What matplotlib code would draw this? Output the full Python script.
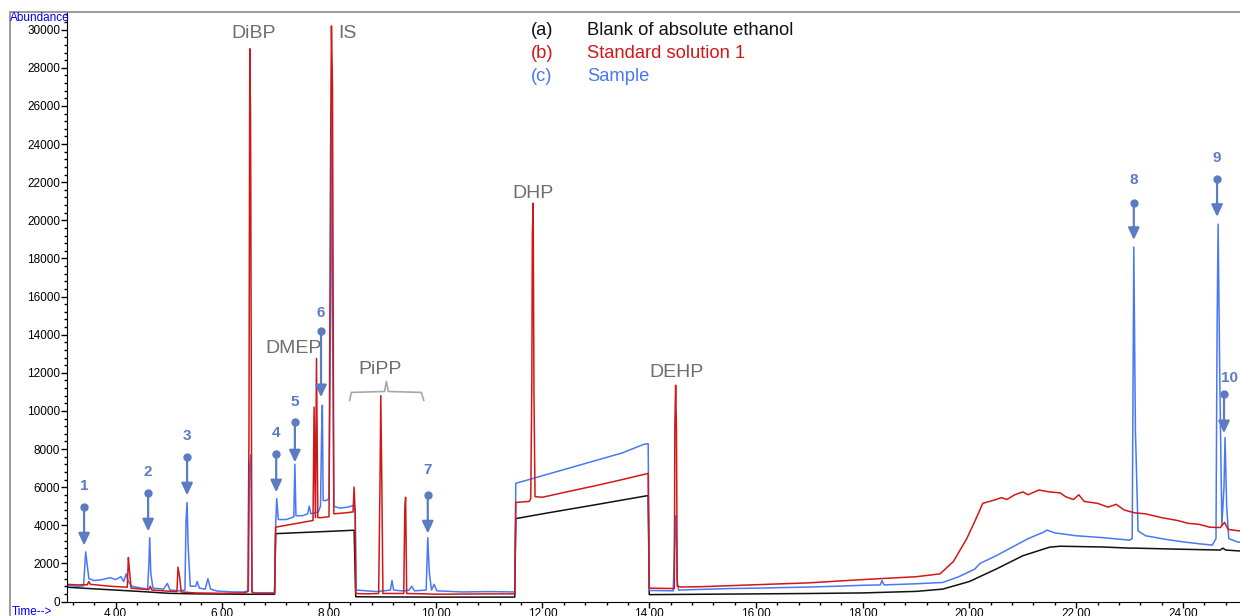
import numpy as np
import matplotlib
matplotlib.use("Agg")
import matplotlib.pyplot as plt
from matplotlib.ticker import MultipleLocator, FormatStrFormatter
from matplotlib.patches import Rectangle

plt.rcParams['font.family'] = ['Liberation Sans', 'DejaVu Sans']

# ---- traces (time in min, abundance) ----
blank_t = [3.09, 3.5, 4.0, 4.5, 5.0, 5.5, 6.0, 6.5, 6.98, 7.0, 7.5, 8.0, 8.47, 8.5, 9.0, 10.0,
           11.0, 11.48, 11.5, 12.0, 13.0, 13.98, 14.0, 15.0, 16.0, 17.0, 18.0, 19.0, 19.5, 20.0,
           20.5, 21.0, 21.5, 21.7, 22.5, 23.0, 23.1, 24.0, 24.7, 24.75, 24.8, 25.07]
blank_a = [750, 680, 600, 520, 430, 400, 390, 380, 380, 3560, 3620, 3680, 3740, 250, 240, 230,
           230, 230, 4350, 4600, 5080, 5560, 360, 380, 400, 420, 450, 530, 650, 1050,
           1700, 2400, 2850, 2900, 2860, 2800, 2800, 2740, 2700, 2800, 2700, 2650]

std_t = [3.09, 3.3, 3.47, 3.5, 3.53, 3.9, 4.22, 4.24, 4.26, 4.29, 4.5, 4.62, 4.65, 4.68, 5.0,
         5.15, 5.17, 5.2, 5.23, 5.5, 6.0, 6.4, 6.48, 6.5, 6.515, 6.53, 6.555, 6.6, 6.98, 7.0,
         7.3, 7.6, 7.7, 7.72, 7.745, 7.765, 7.79, 7.85, 8.0, 8.03, 8.045, 8.065, 8.09, 8.3,
         8.45, 8.47, 8.49, 8.5, 8.7, 8.93, 8.955, 8.97, 8.99, 9.01, 9.2, 9.4, 9.42, 9.435,
         9.455, 9.8, 10.0, 11.0, 11.48, 11.5, 11.75, 11.78, 11.80, 11.81, 11.825, 11.84,
         11.86, 12.0, 12.5, 13.0, 13.5, 13.98, 14.0, 14.45, 14.47, 14.48, 14.495, 14.51,
         14.525, 14.6, 15.0, 16.0, 17.0, 18.0, 19.0, 19.45, 19.7, 19.95, 20.1, 20.25, 20.5,
         20.6, 20.7, 20.85, 21.0, 21.1, 21.3, 21.5, 21.7, 21.8, 21.95, 22.05, 22.15, 22.4,
         22.6, 22.75, 22.9, 23.1, 23.3, 23.6, 23.9, 24.1, 24.3, 24.5, 24.7, 24.78, 24.85, 25.07]
std_a = [900, 870, 880, 1050, 900, 800, 750, 2300, 1650, 700, 650, 620, 800, 600, 540,
         520, 1800, 1300, 500, 450, 430, 450, 520, 8900, 29000, 25300, 500, 420, 420, 3900,
         4050, 4200, 4250, 10200, 4400, 12750, 4400, 4400, 4450, 24000, 30200, 27000, 4600, 4650,
         4700, 6000, 4600, 420, 400, 420, 6200, 10800, 6000, 420, 420, 420, 4900, 5470,
         420, 400, 380, 400, 400, 5200, 5250, 5400, 11450, 19300, 20900, 11000,
         5500, 5470, 5780, 6080, 6400, 6720, 700, 680, 680, 9250, 11350, 9000,
         800, 760, 780, 880, 980, 1150, 1300, 1450, 2100, 3300, 4200, 5150, 5350,
         5450, 5350, 5600, 5750, 5600, 5850, 5750, 5700, 5500, 5350, 5600, 5250, 5150,
         4950, 5100, 4800, 4650, 4600, 4400, 4250, 4100, 4050, 3900, 3880, 4150, 3780, 3700]

smp_t = [3.09, 3.3, 3.40, 3.42, 3.44, 3.47, 3.50, 3.6, 3.75, 3.9, 4.0, 4.1, 4.15, 4.2, 4.23,
         4.3, 4.45, 4.6, 4.625, 4.64, 4.66, 4.7, 4.9, 4.97, 5.02, 5.2, 5.3, 5.32, 5.34, 5.36,
         5.4, 5.5, 5.53, 5.57, 5.68, 5.73, 5.78, 5.9, 6.2, 6.4, 6.49, 6.51, 6.535, 6.56, 6.6,
         6.98, 7.0, 7.02, 7.05, 7.2, 7.3, 7.34, 7.36, 7.38, 7.5, 7.6, 7.63, 7.66, 7.8, 7.84,
         7.86, 7.875, 7.89, 7.95, 8.0, 8.03, 8.05, 8.065, 8.09, 8.2, 8.35, 8.47, 8.49, 8.51,
         8.7, 8.9, 9.0, 9.15, 9.18, 9.21, 9.4, 9.5, 9.55, 9.6, 9.82, 9.85, 9.88, 9.92, 9.97,
         10.02, 10.5, 11.0, 11.48, 11.5, 12.0, 12.5, 13.0, 13.5, 13.9, 13.98, 14.0, 14.45,
         14.48, 14.5, 14.52, 14.55, 15.0, 15.5, 16.0, 17.0, 17.5, 18.0, 18.33, 18.36, 18.4,
         19.0, 19.5, 19.8, 20.1, 20.2, 20.5, 20.8, 21.1, 21.4, 21.45, 21.6, 22.0, 22.5, 23.0,
         23.05, 23.08, 23.11, 23.16, 23.3, 23.7, 24.0, 24.3, 24.55, 24.62, 24.64, 24.66, 24.69,
         24.73, 24.77, 24.79, 24.82, 24.86, 25.0, 25.07]
smp_a = [830, 800, 820, 1700, 2600, 1900, 1200, 1100, 1150, 1250, 1150, 1300, 1050, 1450, 1100,
         800, 720, 650, 2000, 3350, 1500, 700, 650, 950, 600, 560, 600, 4200, 5200, 2900,
         800, 800, 1050, 700, 650, 1200, 650, 550, 500, 500, 550, 7000, 7700, 500, 460,
         460, 4000, 5400, 4300, 4300, 4400, 4450, 7200, 4500, 4500, 4600, 5000, 4600, 4700, 5000,
         8700, 10300, 5300, 5300, 5400, 15800, 28100, 15000, 5000, 4900, 4950, 5050, 4800, 600,
         560, 520, 550, 600, 1100, 600, 550, 600, 800, 560, 600, 3350, 1500, 600, 900,
         560, 500, 520, 500, 6200, 6600, 7000, 7400, 7800, 8250, 8280, 580, 560,
         3500, 4500, 1200, 600, 640, 680, 700, 760, 800, 850, 870, 1100, 870,
         930, 1000, 1300, 1700, 2000, 2400, 2850, 3300, 3650, 3750, 3600, 3450, 3350, 3220,
         3300, 18600, 9000, 3700, 3450, 3250, 3130, 3030, 2960, 3300, 14000, 19800, 12000,
         4000, 6000, 8600, 5000, 3300, 3150, 3100]

legend_tags = ['(a)', '(b)', '(c)']
legend_names = ['Blank of absolute ethanol', 'Standard solution 1', 'Sample']

compound_names = ['DiBP', 'IS', 'DMEP', 'PiPP', 'DHP', 'DEHP']
compound_t = [6.58, 8.34, 7.33, 8.96, 11.82, 14.52]
compound_a = [29800, 29800, 13280, 12170, 21410, 12020]

# numbered sample peaks: label, time, text height, arrow start, arrow tip
peak_nums = ['1', '2', '3', '4', '5', '6', '7', '8', '9', '10']
peak_t = [3.41, 4.61, 5.34, 7.01, 7.36, 7.85, 9.85, 23.08, 24.64, 24.77]
peak_text_a = [6040, 6780, 8670, 8830, 10460, 15130, 6880, 22120, 23280, 11720]
peak_dot_a = [4940, 5680, 7570, 7720, 9410, 14190, 5570, 20910, 22180, 10880]
peak_tip_a = [2940, 3680, 5570, 5730, 7300, 10720, 3570, 18970, 20180, 8830]

black = '#111111'
red = '#D01818'
blue = '#4878F5'
ann = '#5B7CC2'
gray = '#6E6E6E'

fig = plt.figure(figsize=(12.4, 6.16), dpi=100)
ax = fig.add_axes([67 / 1240, 14.5 / 616, 1173 / 1240, 589.5 / 616])

ax.plot(blank_t, blank_a, color=black, lw=1.1)
ax.plot(smp_t, smp_a, color=blue, lw=1.1)
ax.plot(std_t, std_a, color=red, lw=1.1)

ax.set_xlim(3.09, 25.07)
ax.set_ylim(0, 30930)

ax.xaxis.set_major_locator(MultipleLocator(2))
ax.xaxis.set_minor_locator(MultipleLocator(0.4))
ax.xaxis.set_major_formatter(FormatStrFormatter('%.2f'))
ax.yaxis.set_major_locator(MultipleLocator(2000))
ax.yaxis.set_minor_locator(MultipleLocator(400))
ax.tick_params(axis='both', which='major', length=4, width=1, labelsize=8.5, pad=1, colors='black')
ax.tick_params(axis='both', which='minor', length=2, width=1)
ax.spines['top'].set_visible(False)
ax.spines['right'].set_visible(False)

# legend as coloured text
for i, c in enumerate([black, red, blue]):
    ax.text(11.785, 29960 - i * 1210, legend_tags[i], color=c, fontsize=13.2, va='center', ha='left')
    ax.text(12.83, 29960 - i * 1210, legend_names[i], color=c, fontsize=13.2, va='center', ha='left')

for name, t, a in zip(compound_names, compound_t, compound_a):
    ax.text(t, a, name, color=gray, fontsize=14, ha='center', va='center')

# bracket under PiPP
ax.plot([8.385, 8.42, 9.04, 9.075, 9.11, 9.73, 9.775],
        [10550, 10970, 11020, 11540, 11020, 10970, 10550], color='#A8A8A8', lw=1.2)

for n, t, ta, da, pa in zip(peak_nums, peak_t, peak_text_a, peak_dot_a, peak_tip_a):
    tx = t + 0.11 if n == '10' else t
    ax.text(tx, ta, n, color=ann, fontsize=11, fontweight='bold', ha='center', va='center')
    ax.plot([t], [da], 'o', color=ann, ms=5)
    ax.annotate('', xy=(t, pa), xytext=(t, da),
                arrowprops=dict(arrowstyle='-|>,head_length=0.6,head_width=0.28',
                                color=ann, lw=1.6, shrinkA=0, shrinkB=0, mutation_scale=12))

fig.add_artist(Rectangle((10 / 1240, -0.05), 1.1, (616 - 12) / 616 + 0.05,
                         transform=fig.transFigure, fill=False, edgecolor='#8A8A8A', lw=1.2))
fig.text(10 / 1240, (616 - 18) / 616, 'Abundance', color='#0000FF', fontsize=8.5, ha='left', va='center')
fig.text(12 / 1240, (616 - 612) / 616, 'Time-->', color='#0000FF', fontsize=8.5, ha='left', va='center')

fig.savefig('out.png', dpi=100)
